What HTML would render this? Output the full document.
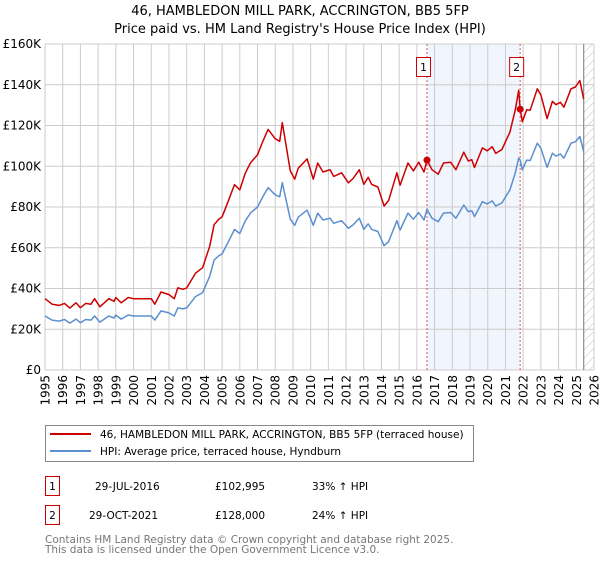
<!DOCTYPE html>
<html><head><meta charset="utf-8"><style>
body{margin:0;background:#fff;font-family:"DejaVu Sans","Liberation Sans",sans-serif;}
svg text{font-family:"DejaVu Sans","Liberation Sans",sans-serif;}
</style></head><body>
<svg id="chart" width="600" height="560" viewBox="0 0 600 560">
<defs><pattern id="hatch" width="6" height="6" patternUnits="userSpaceOnUse" patternTransform="rotate(45)"><line x1="0" y1="0" x2="0" y2="6" stroke="#bbb" stroke-width="1"/></pattern></defs>
<text x="300" y="15" text-anchor="middle" font-size="13">46, HAMBLEDON MILL PARK, ACCRINGTON, BB5 5FP</text>
<text x="300" y="33" text-anchor="middle" font-size="13">Price paid vs. HM Land Registry's House Price Index (HPI)</text>
<g id="grid"></g><g id="series"></g><g id="axes"></g>
<g>
<rect x="45.5" y="425.5" width="428" height="36" fill="#fff" stroke="#888"/>
<line x1="50" y1="434" x2="91" y2="434" stroke="#cc0000" stroke-width="2"/>
<text x="100" y="438" font-size="10.5">46, HAMBLEDON MILL PARK, ACCRINGTON, BB5 5FP (terraced house)</text>
<line x1="50" y1="451" x2="91" y2="451" stroke="#5b8fd0" stroke-width="2"/>
<text x="100" y="455" font-size="10.5">HPI: Average price, terraced house, Hyndburn</text>
</g>
<g font-size="10.5">
<rect x="45.5" y="476.5" width="14" height="19" fill="#fff" stroke="#cc0000"/>
<text x="52.5" y="490" text-anchor="middle">1</text>
<text x="95" y="490">29-JUL-2016</text>
<text x="215" y="490">£102,995</text>
<text x="312" y="490">33% ↑ HPI</text>
<rect x="45.5" y="505.5" width="14" height="19" fill="#fff" stroke="#cc0000"/>
<text x="52.5" y="519" text-anchor="middle">2</text>
<text x="89" y="519">29-OCT-2021</text>
<text x="215" y="519">£128,000</text>
<text x="312" y="519">24% ↑ HPI</text>
</g>
<text x="45" y="543" font-size="10.5" fill="#777">Contains HM Land Registry data © Crown copyright and database right 2025.</text>
<text x="45" y="553" font-size="10.5" fill="#777">This data is licensed under the Open Government Licence v3.0.</text>
</svg>
<script>
const years=[1995.0,1995.4,1995.8,1996.1,1996.4,1996.75,1997.0,1997.3,1997.6,1997.8,1998.1,1998.6,1998.9,1999.0,1999.3,1999.7,2000.0,2000.5,2001.0,2001.2,2001.55,2002.0,2002.3,2002.5,2002.8,2003.0,2003.5,2003.9,2004.3,2004.55,2004.8,2005.0,2005.3,2005.7,2006.0,2006.3,2006.6,2007.0,2007.3,2007.6,2008.0,2008.25,2008.4,2008.85,2009.1,2009.3,2009.8,2010.15,2010.4,2010.7,2011.1,2011.3,2011.75,2012.13,2012.4,2012.75,2013.0,2013.25,2013.45,2013.8,2014.15,2014.4,2014.87,2015.05,2015.5,2015.8,2016.1,2016.4,2016.57,2016.85,2017.2,2017.5,2017.9,2018.2,2018.65,2018.9,2019.1,2019.25,2019.7,2019.97,2020.25,2020.45,2020.8,2021.25,2021.55,2021.75,2021.83,2021.95,2022.2,2022.4,2022.8,2023.0,2023.35,2023.65,2023.85,2024.1,2024.3,2024.7,2024.95,2025.2,2025.42];
const hpiValues=[26.5,24.5,24,24.8,23,25,23.2,24.8,24.5,26.5,23.5,26.5,25.5,27,25,27,26.5,26.5,26.5,24.5,29,28,26.5,30.5,30,30.5,36,38,46,54,56,57,62,69,67,73,77,80,85,89.5,86,85,92,74,71,75,78.5,71,77,73.6,74.5,72,73.3,69.6,71.2,74.5,69,71.7,69,68,61,63,73.3,68.7,77,74,77.3,73.6,78.9,74.5,72.8,77,77.3,74.5,81,77.7,78.2,75.3,82.6,81.5,83,80.5,82,88.4,96.6,104,103,98.2,103,102.8,111.3,108.8,99.5,106.4,105,106,104,111.3,112,114.6,107.2];
const priceValues=[35,32.3,31.7,32.7,30.4,33,30.6,32.7,32.3,35,31,35,33.7,35.6,33,35.6,35,35,35,32.3,38.3,37,35,40.3,39.6,40.3,47.5,50.2,60.7,71.3,73.9,75.2,81.8,91,88.4,96.4,101.6,105.6,112.2,118.1,113.5,112.2,121.4,97.7,93.7,99,103.6,93.7,101.6,97.2,98.3,95,96.8,91.9,94,98.3,91.1,94.6,91.1,89.8,80.5,83.2,96.8,90.7,101.6,97.7,102,97.2,103,98.3,96.1,101.6,102,98.3,106.9,102.6,103.2,99.4,109,107.6,109.6,106.3,108.2,116.7,127.5,137.3,128,121.8,127.7,127.5,138,134.9,123.4,131.9,130.2,131.4,129,138,138.9,142.1,132.9];
const yTicks=[0,20,40,60,80,100,120,140,160];
const yTickLabels=["£0","£20K","£40K","£60K","£80K","£100K","£120K","£140K","£160K"];
const xTicks=[1995,1996,1997,1998,1999,2000,2001,2002,2003,2004,2005,2006,2007,2008,2009,2010,2011,2012,2013,2014,2015,2016,2017,2018,2019,2020,2021,2022,2023,2024,2025,2026];
const saleYears=[2016.57,2021.83];
const salePrices=[102.995,128];
const saleLabels=["1","2"];
const dataEnd=2025.42;

const L=45,R=594,T=44,B=370;
const xs=v=>L+(v-1995)/(2026-1995)*(R-L);
const ys=v=>B-v/160*(B-T);
const NS="http://www.w3.org/2000/svg";
function mk(tag,attrs,parent){const e=document.createElementNS(NS,tag);for(const k in attrs)e.setAttribute(k,attrs[k]);parent.appendChild(e);return e;}
const grid=document.getElementById('grid'),ser=document.getElementById('series'),ax=document.getElementById('axes');
let sh=mk('rect',{x:xs(saleYears[0]),y:T,width:xs(saleYears[1])-xs(saleYears[0]),height:B-T,fill:'#eef3fd',opacity:0.8},grid);


let ht=mk('rect',{x:xs(dataEnd),y:T,width:R-xs(dataEnd),height:B-T,fill:'url(#hatch)'},grid);


yTicks.forEach((v,i)=>{
 let g=mk('line',{x1:L,x2:R,y1:ys(v),y2:ys(v),stroke:'#ccc','stroke-width':1},grid);
 
 
 let t=mk('text',{x:L-4,y:ys(v)+4,'text-anchor':'end','font-size':12},ax);
 t.textContent=yTickLabels[i];
 
 
});
xTicks.forEach(v=>{
 let g=mk('line',{x1:xs(v),x2:xs(v),y1:T,y2:B,stroke:'#ccc','stroke-width':1},grid);
 
 
 let t=mk('text',{x:0,y:0,'text-anchor':'end','font-size':12,transform:`translate(${xs(v)+4.5},${B+5}) rotate(-90)`},ax);
 t.textContent=v;
 
 
});
let el=mk('line',{x1:xs(dataEnd),x2:xs(dataEnd),y1:T,y2:B,stroke:'#777','stroke-width':1},grid);


saleYears.forEach((v,i)=>{
 let l=mk('line',{x1:xs(v),x2:xs(v),y1:T,y2:B,stroke:'#e05555','stroke-width':1,'stroke-dasharray':'2,2'},grid);
 
 
 let r=mk('rect',{x:xs(v)-10.5,y:57.5,width:14,height:19,fill:'#fff',stroke:'#cc0000'},ax);
 
 
 let t=mk('text',{x:xs(v)-3.5,y:71,'text-anchor':'middle','font-size':11},ax);
 t.textContent=saleLabels[i];
 
 
});
const pts=a=>years.map((y,i)=>xs(y).toFixed(1)+','+ys(a[i]).toFixed(1)).join(' ');
let hl=mk('polyline',{points:pts(hpiValues),fill:'none',stroke:'#5b8fd0','stroke-width':1.5,'stroke-linejoin':'round'},ser);


let pl=mk('polyline',{points:pts(priceValues),fill:'none',stroke:'#cc0000','stroke-width':1.5,'stroke-linejoin':'round'},ser);


saleYears.forEach((v,i)=>{
 let c=mk('circle',{cx:xs(v),cy:ys(salePrices[i]),r:3.5,fill:'#cc0000'},ser);
 
 
});
</script>
</body></html>
